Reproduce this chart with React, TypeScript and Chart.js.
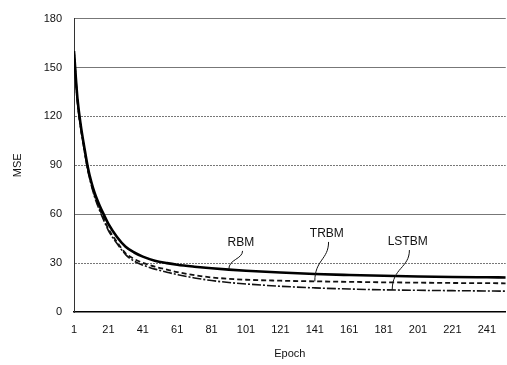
import React, { useEffect, useRef } from "react";
import { Chart, registerables } from "chart.js";

Chart.register(...registerables);

const epochs = [1, 3, 5, 7, 9, 11, 13, 16, 18, 21, 26, 31, 36, 41, 48, 55, 61, 71, 81, 91, 101, 121, 141, 161, 181, 201, 221, 241, 252];
const rbm = [160, 131, 114, 101, 89, 80, 73, 65, 60.5, 54, 46, 40, 36.5, 34, 31.5, 30, 29, 27.8, 26.8, 26, 25.3, 24.2, 23.3, 22.7, 22.2, 21.8, 21.5, 21.3, 21.2];
const trbm = [160, 130, 113, 100, 88, 79, 71.5, 63, 58, 51, 43, 36, 32.5, 30.2, 27.8, 26, 24.5, 22.6, 21.2, 20.4, 19.8, 19.2, 18.8, 18.5, 18.2, 18, 17.8, 17.7, 17.6];
const lstbm = [160, 129, 112, 99, 87, 78, 70.5, 62, 57, 50, 42, 35.2, 31.2, 28.8, 26.3, 24.4, 23, 20.9, 19.3, 18.1, 17.2, 15.8, 14.8, 14.1, 13.6, 13.3, 13.1, 12.9, 12.8];

const xTicks = [1, 21, 41, 61, 81, 101, 121, 141, 161, 181, 201, 221, 241];
const yTicks = [0, 30, 60, 90, 120, 150, 180];

const annLabels = ["RBM", "TRBM", "LSTBM"];
const annTextEpoch = [98, 148, 195];
const annTextValue = [42.5, 48, 43];
const annFromValue = [37.5, 43, 38];
const annToEpoch = [91, 141, 186];
const annToValue = [26.2, 18.8, 13.6];

const FONT = "'Liberation Sans', Arial, sans-serif";

const annotationPlugin = {
  id: "leaderLabels",
  afterDatasetsDraw(chart: any) {
    const { ctx, scales } = chart;
    const xs = scales.x;
    const ys = scales.y;
    ctx.save();
    ctx.font = `12px ${FONT}`;
    ctx.fillStyle = "#111";
    ctx.textAlign = "center";
    ctx.textBaseline = "middle";
    ctx.strokeStyle = "#111";
    ctx.lineWidth = 1;
    annLabels.forEach((label, i) => {
      const tx = xs.getPixelForValue(annTextEpoch[i]);
      const ty = ys.getPixelForValue(annTextValue[i]);
      ctx.fillText(label, tx, ty);
      const sx = xs.getPixelForValue(annTextEpoch[i] + 1);
      const sy = ys.getPixelForValue(annFromValue[i]);
      const ex = xs.getPixelForValue(annToEpoch[i]);
      const ey = ys.getPixelForValue(annToValue[i]);
      ctx.beginPath();
      ctx.moveTo(sx, sy);
      ctx.bezierCurveTo(sx, sy + (ey - sy) * 0.45, ex, sy + (ey - sy) * 0.45, ex, ey);
      ctx.stroke();
    });
    ctx.restore();
  },
};

export default function App() {
  const ref = useRef<HTMLCanvasElement | null>(null);
  useEffect(() => {
    if (!ref.current) return;
    const mk = (d: number[]) => epochs.map((e, i) => ({ x: e, y: d[i] }));
    const chart = new Chart(ref.current, {
      type: "line",
      data: {
        datasets: [
          { label: "RBM", data: mk(rbm), borderColor: "#000", borderWidth: 2.6, pointRadius: 0, cubicInterpolationMode: "monotone", fill: false },
          { label: "TRBM", data: mk(trbm), borderColor: "#111", borderWidth: 1.8, borderDash: [5, 3], pointRadius: 0, cubicInterpolationMode: "monotone", fill: false },
          { label: "LSTBM", data: mk(lstbm), borderColor: "#111", borderWidth: 1.6, borderDash: [9, 2, 2, 2], pointRadius: 0, cubicInterpolationMode: "monotone", fill: false },
        ],
      },
      options: {
        responsive: false,
        animation: false,
        layout: { padding: { top: 15, right: 0, left: 0, bottom: 0 } },
        plugins: { legend: { display: false }, tooltip: { enabled: false } },
        scales: {
          x: {
            type: "linear",
            min: 1,
            max: 252,
            afterBuildTicks: (scale: any) => {
              scale.ticks = xTicks.map((v) => ({ value: v }));
            },
            afterFit: (scale: any) => {
              scale.height = 53;
            },
            grid: { display: false, drawTicks: false },
            border: { display: true, color: "#000", width: 1.5 },
            ticks: { color: "#111", padding: 11, maxRotation: 0, autoSkip: false, font: { family: FONT, size: 11 } },
            title: { display: true, text: "Epoch", color: "#111", padding: { top: 0, bottom: 4 }, font: { family: FONT, size: 11 } },
          },
          y: {
            min: 0,
            max: 180,
            afterBuildTicks: (scale: any) => {
              scale.ticks = yTicks.map((v) => ({ value: v }));
            },
            afterFit: (scale: any) => {
              scale.width = 74;
            },
            grid: {
              drawTicks: false,
              color: (c: any) => (c.tick && c.tick.value === 0 ? "rgba(0,0,0,0)" : "#777"),
              lineWidth: 1,
            },
            border: {
              display: true,
              color: "#333",
              width: 1,
              dash: (c: any) => (c.tick && [30, 90, 120].includes(c.tick.value) ? [2, 1] : []),
            },
            ticks: { color: "#111", padding: 12, font: { family: FONT, size: 11 } },
            title: { display: true, text: "MSE", color: "#111", padding: { top: 11, bottom: 0 }, font: { family: FONT, size: 11 } },
          },
        },
      },
      plugins: [annotationPlugin],
    } as any);
    return () => chart.destroy();
  }, []);
  return (
    <div style={{ position: "fixed", left: 0, top: 0, width: 507, height: 365, background: "#fff" }}>
      <canvas ref={ref} width={507} height={365} style={{ display: "block", width: 507, height: 365 }} />
    </div>
  );
}
